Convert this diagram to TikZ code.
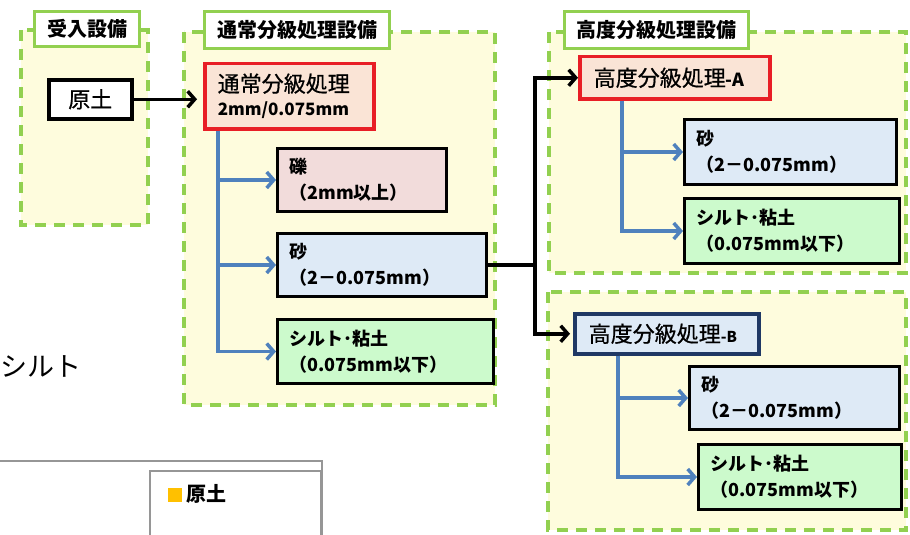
\documentclass[tikz,border=0pt]{standalone}
\usepackage{fontspec}
\setmainfont{Noto Sans CJK JP}
\newfontface\medfont[FakeBold=0.6]{Noto Sans CJK JP}
\usetikzlibrary{arrows.meta}
\definecolor{grn}{RGB}{146,208,80}
\definecolor{ylw}{RGB}{254,252,221}
\definecolor{peach}{RGB}{250,228,214}
\definecolor{rose}{RGB}{242,220,219}
\definecolor{sky}{RGB}{222,234,246}
\definecolor{mint}{RGB}{204,250,204}
\definecolor{redb}{RGB}{232,30,38}
\definecolor{navy}{RGB}{31,56,100}
\definecolor{bluel}{RGB}{79,129,189}
\definecolor{legy}{RGB}{255,192,0}
\definecolor{grayb}{RGB}{150,150,150}
\tikzset{
  grp/.style={draw=grn, line width=3.5pt, dash pattern=on 11pt off 8pt, fill=ylw},
  tabbox/.style={draw=grn, line width=3pt, fill=white, anchor=north west, inner sep=0pt,
    font=\bfseries\fontsize{20}{24}\selectfont},
  procbox/.style={anchor=north west, align=left, inner xsep=13pt, inner ysep=0pt,
    font=\medfont\fontsize{22}{26}\selectfont},
  matbox/.style={draw=black, line width=3pt, anchor=north west, align=left, inner xsep=12pt, inner ysep=0pt,
    font=\bfseries\fontsize{18}{26}\selectfont},
  blarrow/.style={draw=bluel, line width=3.5pt, -{Straight Barb[length=7pt,width=16pt,line width=3.5pt]}},
  bkarrow/.style={draw=black, line width=3.5pt, -{Straight Barb[length=7pt,width=16pt,line width=3.5pt]}},
}
\begin{document}
\begin{tikzpicture}[x=1pt,y=-1pt]
\useasboundingbox (0,0) rectangle (910,535);
\begin{scope}
\clip (0,0) rectangle (910,535);
\fill[white] (0,0) rectangle (910,535);
% groups
\draw[grp] (21,30) rectangle (148,225);
\draw[grp] (184,32) rectangle (495,405);
\draw[grp] (549,32) rectangle (906,273);
\draw[grp] (548,292) rectangle (906,530);
% tabs
\node[tabbox, minimum width=105pt, minimum height=35pt] (t1) at (33,10) {受入設備};
\node[tabbox, minimum width=185pt, minimum height=37pt] (t2) at (203,10) {通常分級処理設備};
\node[tabbox, minimum width=184pt, minimum height=37pt] (t3) at (563,10) {高度分級処理設備};
% raw soil
\node[draw=black, line width=3.5pt, fill=white, anchor=north west, inner sep=0pt,
  minimum width=83pt, minimum height=39pt, font=\medfont\fontsize{22}{26}\selectfont] (gen) at (47,78) {原土};
% normal process
\node[procbox, draw=redb, line width=3.5pt, fill=peach, minimum width=169pt, minimum height=65pt, text width=143pt] (p1) at (203,62)
  {通常分級処理\\[-2pt]{\normalfont\bfseries\fontsize{17}{20}\selectfont 2mm/0.075mm}};
\node[matbox, fill=rose, minimum width=169pt, minimum height=63pt, text width=145pt] (gr) at (276,147) {礫\\（2mm以上）};
\node[matbox, fill=sky, minimum width=209pt, minimum height=63pt, text width=185pt] (sd) at (276,232) {砂\\（2－0.075mm）};
\node[matbox, fill=mint, minimum width=216pt, minimum height=64pt, text width=192pt] (sl) at (276,318) {シルト･粘土\\（0.075mm以下）};
% advanced A
\node[procbox, draw=redb, line width=3.5pt, fill=peach, minimum width=190pt, minimum height=42pt, text width=162pt, inner xsep=14pt] (pa) at (578,55)
  {高度分級処理{\normalfont\bfseries\fontsize{18}{20}\selectfont -A}};
\node[matbox, fill=sky, minimum width=212pt, minimum height=65pt, text width=188pt] (sda) at (683,118) {砂\\（2－0.075mm）};
\node[matbox, fill=mint, minimum width=215pt, minimum height=65pt, text width=191pt] (sla) at (683,197) {シルト･粘土\\（0.075mm以下）};
% advanced B
\node[procbox, draw=navy, line width=3.5pt, fill=sky, minimum width=184pt, minimum height=40pt, text width=156pt, inner xsep=14pt] (pb) at (573,312)
  {高度分級処理{\normalfont\bfseries\fontsize{15}{20}\selectfont -B}};
\node[matbox, fill=sky, minimum width=210pt, minimum height=63pt, text width=186pt] (sdb) at (688,365) {砂\\（2－0.075mm）};
\node[matbox, fill=mint, minimum width=203pt, minimum height=65pt, text width=179pt] (slb) at (697,443) {シルト･粘土\\（0.075mm以下）};
% connectors
\draw[bkarrow, shorten >=6pt] (gen.east) -- (gen.east -| p1.west);
\coordinate (j) at ([xshift=47pt]sd.east);
\draw[line width=3.5pt] (sd.east) -- (j);
\draw[bkarrow] (j) |- (pa.west);
\draw[bkarrow, shorten >=3pt] (j) |- (pb.west);
\coordinate (b1) at ([xshift=15pt]p1.south west);
\draw[blarrow] (b1) |- (gr.west);
\draw[blarrow] (b1) |- (sd.west);
\draw[blarrow] (b1) |- (sl.west);
\coordinate (ba) at ([xshift=44pt]pa.south west);
\draw[blarrow] (ba) |- (sda.west);
\draw[blarrow] (ba) |- (sla.west);
\coordinate (bb) at ([xshift=45pt]pb.south west);
\draw[blarrow] (bb) |- (sdb.west);
\draw[blarrow] (bb) |- (slb.west);
% left text
\node[anchor=west, inner sep=0pt, font=\fontsize{27}{30}\selectfont] (lt) at (0,366) {シルト};
% legend
\draw[grayb, line width=2pt] (-5,461) rectangle (322,560);
\node[draw=grayb, line width=2pt, fill=white, anchor=north west, minimum width=171pt, minimum height=80pt] (leg) at (149,470) {};
\fill[legy] (168,488) rectangle (182,502);
\node[anchor=west, inner sep=0pt, font=\bfseries\fontsize{20}{24}\selectfont] (lg1) at (186,494) {原土};
\end{scope}
\end{tikzpicture}
\end{document}
